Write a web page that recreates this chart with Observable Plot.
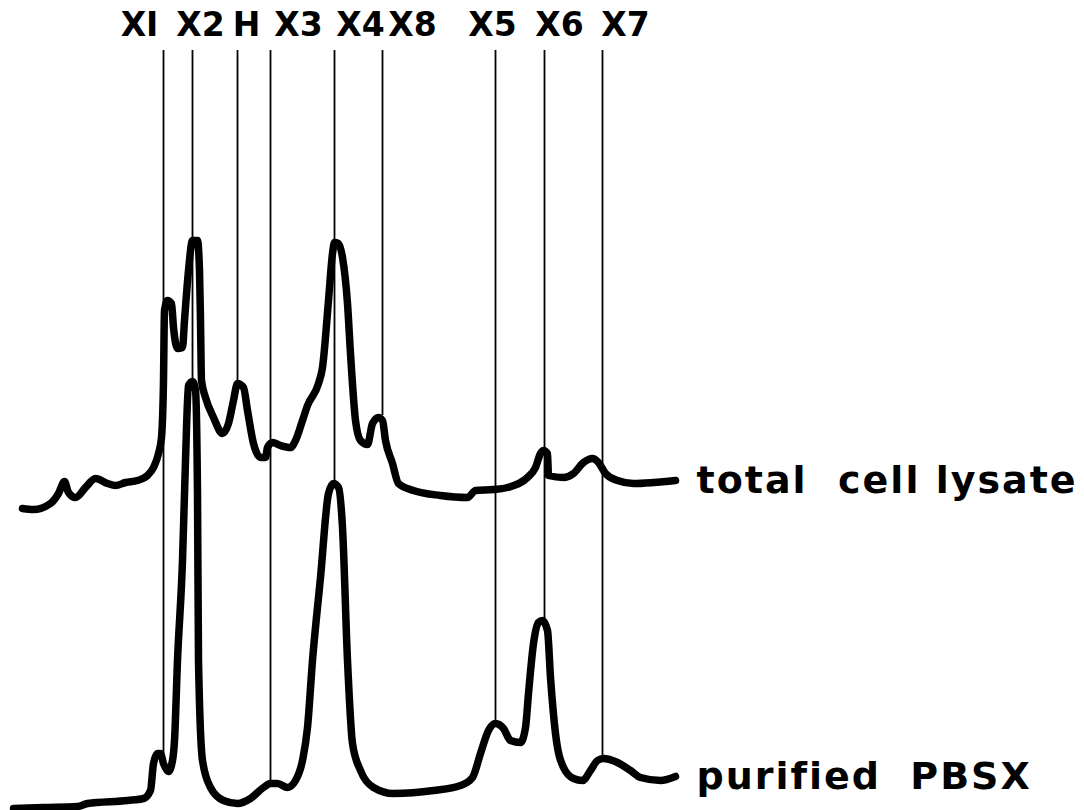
<!DOCTYPE html>
<html>
<head>
<meta charset="utf-8">
<script src="https://cdn.jsdelivr.net/npm/d3@7"></script>
<script src="https://cdn.jsdelivr.net/npm/@observablehq/plot@0.6"></script>
<style>
  html, body { margin: 0; padding: 0; background: #fff; }
  #chart svg { display: block; }
  #chart svg text { white-space: pre; }
</style>
</head>
<body>
<div id="chart"></div>
<script>
// Densitometer scans of SDS gels: migration distance vs absorbance (trace units)
const lysatePos = [22,33,50,58,64,68,75,85,95,107,115,125,137,147,153,158,161,163,164,167,171,173,177,182,184,188,192,197,199,200,201,205,213,222,228,233,237,243,247,253,260,265,267,272,280,290,295,302,307,318,322,328,332,334,338,342,347,350,355,360,367,372,378,382,385,392,398,413,440,467,475,493,507,527,535,540,543,547,548,563,573,583,592,598,605,617,633,653,675];
const lysateAbs = [302,301,307,317,329,318,313,323,332,327,325,328,330,335,343,357,373,430,500,510,507,483,462,463,490,540,570,570,540,490,430,413,393,377,387,410,427,423,400,367,353,353,363,368,365,363,370,390,405,427,443,510,557,568,567,553,507,457,390,370,366,387,393,390,370,347,327,320,315,313,320,321,323,333,343,357,360,357,335,333,337,348,352,348,337,330,327,328,330];

const pbsxPos = [13,43,77,87,127,143,150,153,157,160,163,168,172,174,177,182,185,188,192,195,197,198,202,210,223,237,250,263,270,277,287,295,302,307,312,320,328,333,338,342,347,352,360,373,393,433,460,472,480,488,495,503,510,520,525,528,533,538,542,547,550,555,563,573,582,590,597,603,617,630,640,660,675];
const pbsxAbs = [2,3,4,7,10,12,20,47,57,57,47,39,50,70,150,250,350,425,429,420,317,150,50,23,10,7,12,23,27,27,23,30,50,83,150,233,317,327,323,283,150,67,40,23,17,20,25,33,57,80,87,82,70,68,83,117,167,188,190,180,133,77,43,32,30,40,50,52,48,40,33,30,34];

const bandNames = ["XI","X2","H","X3","X4","X8","X5","X6","X7"];
const bandPos   = [163,192,237,270,334,382,495,544,602];
const bandReach = [57,428,427,30,327,395,88,190,53];
const labelPos  = [139,200,246,298,360,412,492,559,625];
const bandTop = 760;
const labelLevel = 785;

const traceNames = ["total  cell lysate", "purified PBSX"];

const lysate = lysatePos.map((x, i) => ({x, y: lysateAbs[i]}));
const pbsx = pbsxPos.map((x, i) => ({x, y: pbsxAbs[i]}));
const bands = bandNames.map((name, i) => ({name, x: bandPos[i], y1: bandReach[i], y2: bandTop, lx: labelPos[i]}));
const ends = [lysate[lysate.length - 1], pbsx[pbsx.length - 1]].map((d, i) => ({...d, name: traceNames[i]}));

const font = "'DejaVu Sans', 'Liberation Sans', sans-serif";

const chart = Plot.plot({
  width: 1084,
  height: 810,
  margin: 0,
  x: {domain: [0, 1084], axis: null},
  y: {domain: [0, 810], axis: null},
  style: {background: "#fff", fontFamily: font},
  marks: [
    Plot.ruleX(bands, {x: "x", y1: "y1", y2: "y2", stroke: "#000", strokeWidth: 1.8}),
    Plot.line(lysate, {x: "x", y: "y", stroke: "#000", strokeWidth: 7.5, curve: "monotone-x", strokeLinejoin: "round", strokeLinecap: "round"}),
    Plot.line(pbsx, {x: "x", y: "y", stroke: "#000", strokeWidth: 7.5, curve: "monotone-x", strokeLinejoin: "round", strokeLinecap: "round"}),
    Plot.text(bands, {x: "lx", y: () => labelLevel, text: "name", fontSize: 33, fontWeight: "bold", fill: "#000", fontFamily: font}),
    Plot.text(ends, {x: "x", y: "y", text: "name", textAnchor: "start", dx: 21, fontSize: 38, fontWeight: "bold", fill: "#000", fontFamily: font})
  ]
});

document.getElementById("chart").appendChild(chart);

// hand-lettered spacing of the trace names
d3.select(chart).selectAll("text")
  .filter(function() { return traceNames.includes(this.textContent); })
  .style("letter-spacing", "2px")
  .style("word-spacing", function() { return this.textContent === traceNames[1] ? "14px" : "0px"; });
</script>
</body>
</html>
